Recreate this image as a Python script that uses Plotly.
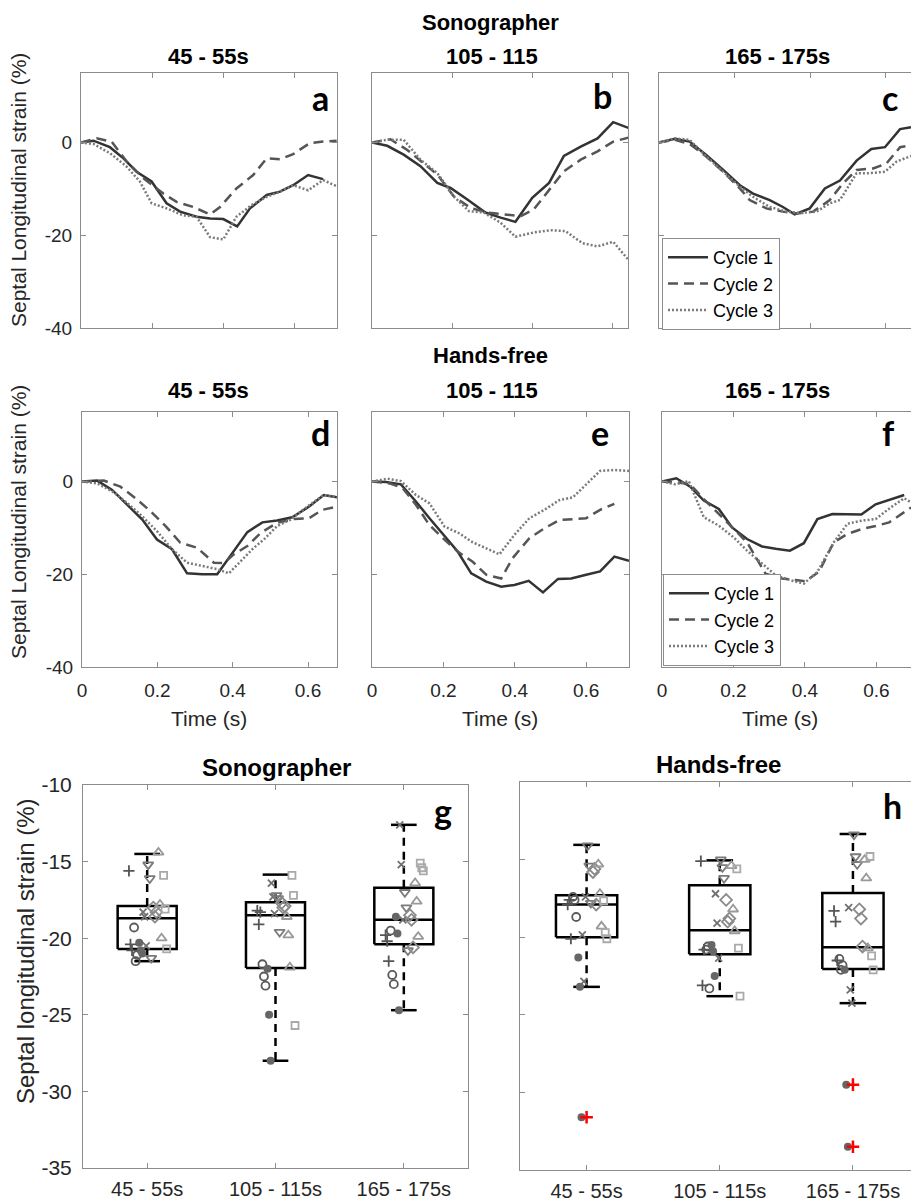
import plotly.graph_objects as go

W, H = 911, 1203
FONT = "Liberation Sans, Arial, sans-serif"
LETTER_FONT = "Lato, Open Sans, sans-serif"

# ---------------- Strain curves (time in s, strain in %) ----------------
# a: Sonographer 45-55s
A_T1 = [0, 0.035, 0.081, 0.119, 0.156, 0.198, 0.240, 0.278, 0.324, 0.362, 0.399, 0.438, 0.474, 0.521, 0.558, 0.595, 0.637, 0.679]
A_V1 = [0, 0.4, -1.0, -3.4, -6.3, -8.4, -13.1, -14.9, -16.0, -16.4, -16.5, -18.1, -14.2, -11.3, -10.6, -9.2, -7.0, -7.9]
A_T2 = [0, 0.044, 0.086, 0.128, 0.175, 0.231, 0.268, 0.315, 0.362, 0.390, 0.436, 0.483, 0.521, 0.558, 0.595, 0.642, 0.679, 0.717]
A_V2 = [0, 0.9, 0.2, -4.1, -7.7, -11.0, -12.8, -13.9, -15.5, -13.9, -9.9, -7.0, -3.4, -3.6, -2.5, -0.1, 0.2, 0.4]
A_T3 = [0, 0.035, 0.081, 0.128, 0.165, 0.198, 0.240, 0.287, 0.324, 0.362, 0.399, 0.436, 0.478, 0.521, 0.558, 0.595, 0.637, 0.679, 0.717]
A_V3 = [0, -0.3, -2.3, -5.2, -8.4, -13.1, -14.2, -15.7, -16.0, -20.4, -20.9, -16.0, -13.5, -11.7, -10.6, -9.2, -10.3, -8.1, -9.4]
# b: Sonographer 105-115
B_T1 = [0, 0.038, 0.079, 0.121, 0.163, 0.196, 0.238, 0.283, 0.321, 0.358, 0.400, 0.442, 0.479, 0.521, 0.563, 0.602, 0.642]
B_V1 = [0, -0.7, -2.6, -5.1, -8.7, -9.8, -12.3, -15.1, -16.2, -17.1, -11.9, -8.7, -2.9, -0.9, 0.9, 4.4, 3.1]
B_T2 = [0, 0.046, 0.088, 0.129, 0.163, 0.204, 0.246, 0.288, 0.329, 0.371, 0.404, 0.446, 0.479, 0.521, 0.563, 0.602, 0.642]
B_V2 = [0, 0.7, -1.6, -4.4, -6.9, -11.6, -14.1, -15.1, -15.5, -15.9, -14.4, -9.8, -6.2, -3.7, -1.9, 0.2, 1.1]
B_T3 = [0, 0.038, 0.079, 0.121, 0.163, 0.204, 0.242, 0.279, 0.321, 0.358, 0.404, 0.446, 0.483, 0.525, 0.563, 0.602, 0.642]
B_V3 = [0, 0.6, 0.6, -3.7, -6.6, -11.6, -14.8, -15.1, -17.3, -20.3, -19.4, -18.9, -19.1, -21.7, -22.4, -21.4, -25.5]
# c: Sonographer 165-175s
C_T1 = [0, 0.042, 0.081, 0.125, 0.170, 0.214, 0.249, 0.293, 0.328, 0.359, 0.399, 0.439, 0.479, 0.523, 0.562, 0.598, 0.638, 0.667]
C_V1 = [0, 0.8, 0.2, -2.7, -5.9, -9.2, -11.0, -12.4, -13.9, -15.5, -14.2, -9.9, -8.2, -3.9, -1.4, -1.0, 2.9, 3.3]
C_T2 = [0, 0.042, 0.081, 0.125, 0.170, 0.214, 0.240, 0.284, 0.328, 0.364, 0.408, 0.452, 0.487, 0.523, 0.567, 0.602, 0.638, 0.667]
C_V2 = [0, 0.6, -0.3, -3.0, -6.3, -9.9, -12.4, -14.2, -14.9, -15.3, -14.9, -12.4, -8.8, -5.9, -5.6, -4.5, -1.0, -0.6]
C_T3 = [0, 0.042, 0.081, 0.125, 0.170, 0.214, 0.249, 0.293, 0.337, 0.373, 0.417, 0.452, 0.479, 0.523, 0.558, 0.598, 0.629, 0.667]
C_V3 = [0, 0.9, 0.6, -3.0, -6.3, -9.5, -11.7, -13.9, -14.9, -15.2, -14.9, -13.1, -12.4, -6.6, -6.6, -6.3, -4.1, -2.9]
# d: Hands-free 45-55s
D_T1 = [0, 0.040, 0.080, 0.120, 0.160, 0.199, 0.239, 0.279, 0.319, 0.359, 0.399, 0.439, 0.479, 0.518, 0.558, 0.603, 0.642, 0.677]
D_V1 = [0, 0.2, -1.8, -5.0, -8.2, -12.5, -14.6, -19.8, -20.0, -20.0, -15.4, -10.9, -8.8, -8.4, -7.7, -5.4, -2.9, -3.4]
D_T2 = [0, 0.058, 0.102, 0.142, 0.182, 0.222, 0.261, 0.306, 0.350, 0.377, 0.403, 0.439, 0.474, 0.518, 0.563, 0.603, 0.638, 0.677]
D_V2 = [0, 0.2, -1.1, -3.6, -6.4, -9.6, -13.2, -14.3, -17.5, -17.6, -15.7, -13.9, -11.1, -8.9, -8.1, -7.9, -6.1, -5.4]
D_T3 = [0, 0.040, 0.080, 0.120, 0.160, 0.199, 0.239, 0.279, 0.319, 0.359, 0.390, 0.425, 0.456, 0.483, 0.518, 0.554, 0.598, 0.642, 0.677]
D_V3 = [0, -0.4, -2.1, -4.6, -7.5, -10.7, -14.6, -17.5, -18.2, -18.9, -19.8, -16.8, -14.3, -12.5, -9.6, -8.2, -5.4, -2.9, -3.4]
# e: Hands-free 105-115
E_T1 = [0, 0.039, 0.081, 0.123, 0.161, 0.198, 0.240, 0.278, 0.320, 0.362, 0.399, 0.439, 0.479, 0.521, 0.558, 0.600, 0.639, 0.679, 0.720]
E_V1 = [0, -0.1, -0.6, -4.3, -7.9, -11.2, -15.1, -19.8, -21.6, -22.7, -22.3, -21.4, -23.9, -21.0, -20.9, -20.1, -19.4, -16.2, -17.1]
E_T2 = [0, 0.049, 0.086, 0.123, 0.161, 0.198, 0.240, 0.282, 0.320, 0.362, 0.394, 0.441, 0.483, 0.525, 0.563, 0.600, 0.639, 0.679]
E_V2 = [0, -0.4, -1.4, -5.0, -9.4, -12.2, -15.1, -17.3, -20.1, -20.9, -16.5, -12.2, -10.1, -8.3, -8.1, -7.9, -6.1, -4.8]
E_T3 = [0, 0.044, 0.081, 0.123, 0.161, 0.203, 0.245, 0.282, 0.320, 0.357, 0.399, 0.441, 0.483, 0.525, 0.563, 0.600, 0.639, 0.679, 0.720]
E_V3 = [0, 0.6, 0.1, -2.9, -4.7, -9.7, -11.2, -13.1, -14.4, -15.7, -11.5, -7.9, -6.1, -4.0, -3.4, -0.7, 2.3, 2.5, 2.3]
# f: Hands-free 165-175s
F_T1 = [0, 0.040, 0.079, 0.117, 0.159, 0.196, 0.238, 0.280, 0.318, 0.358, 0.397, 0.435, 0.477, 0.519, 0.558, 0.598, 0.636, 0.678]
F_V1 = [0, 0.7, -1.1, -4.1, -5.9, -9.9, -12.4, -14.0, -14.5, -14.9, -13.3, -8.1, -7.0, -7.0, -7.1, -4.9, -3.9, -2.9]
F_T2 = [0, 0.042, 0.079, 0.117, 0.154, 0.196, 0.238, 0.290, 0.336, 0.379, 0.402, 0.439, 0.481, 0.519, 0.561, 0.598, 0.636, 0.678, 0.697]
F_V2 = [0, -0.2, -0.6, -3.8, -6.6, -9.9, -13.1, -19.9, -20.9, -21.3, -21.5, -19.5, -13.1, -11.3, -10.2, -9.6, -8.8, -6.6, -5.6]
F_T3 = [0, 0.037, 0.075, 0.117, 0.159, 0.200, 0.238, 0.276, 0.318, 0.360, 0.397, 0.435, 0.481, 0.519, 0.561, 0.598, 0.640, 0.678, 0.697]
F_V3 = [0, -0.6, 0.1, -7.7, -9.5, -12.0, -14.9, -17.4, -20.2, -21.3, -22.0, -19.5, -13.1, -9.1, -8.4, -8.1, -5.6, -3.6, -4.5]

CYCLE_NAMES = ["Cycle 1", "Cycle 2", "Cycle 3"]
Y_TICKS_TOP = [0, -20, -40]
X_TICKS_TOP = [0, 0.2, 0.4, 0.6]

# ---------------- Box plot data (septal longitudinal strain, %) ----------------
CATS = ["45 - 55s", "105 - 115s", "165 - 175s"]
SONO_Q1 = [-20.7, -21.95, -20.4]
SONO_MED = [-18.7, -18.5, -18.8]
SONO_Q3 = [-17.9, -17.65, -16.7]
SONO_LO = [-21.5, -28.0, -24.7]
SONO_HI = [-14.5, -15.85, -12.6]
HF_Q1 = [-20.0, -21.1, -22.05]
HF_MED = [-17.9, -19.55, -20.65]
HF_Q3 = [-17.3, -16.65, -17.15]
HF_LO = [-23.2, -23.8, -24.25]
HF_HI = [-14.05, -15.05, -13.35]
HF_OUT_CAT = [0, 2, 2]
HF_OUT_VAL = [-31.6, -29.5, -33.5]

# Individual subject values: one list per category, three cycles each
SONO_S1 = [[-19.3, -21.5, -21.1], [-21.7, -22.5, -23.1], [-19.5, -22.4, -23.0]]   # open circle
SONO_S2 = [[-20.3, -20.8, -21.0], [-22.0, -25.0, -28.0], [-18.6, -19.7, -24.7]]   # filled circle
SONO_S3 = [[-15.6, -20.4, -20.8], [-18.2, -19.1, -18.3], [-19.8, -20.2, -21.5]]   # plus
SONO_S4 = [[-18.3, -18.6, -20.5], [-16.4, -17.3, -18.4], [-12.6, -15.2, -18.8]]   # x
SONO_S5 = [[-15.2, -16.1, -21.3], [-17.2, -17.4, -19.6], [-17.0, -18.0, -20.8]]   # triangle down
SONO_S6 = [[-18.0, -18.6, -18.3], [-17.7, -18.0, -17.9], [-18.5, -18.8, -20.6]]   # diamond
SONO_S7 = [[-14.4, -17.8, -20.0], [-18.6, -19.8, -21.9], [-16.4, -17.6, -19.9]]   # triangle up
SONO_S8 = [[-15.9, -18.1, -20.7], [-15.9, -17.2, -25.7], [-15.1, -15.4, -15.6]]   # square

HF_S1 = [[-17.4, -17.6, -18.7], [-20.8, -20.6, -23.3], [-21.4, -22.1, -21.8]]
HF_S2 = [[-21.3, -23.2, -31.6], [-20.5, -20.9, -22.5], [-22.1, -29.5, -33.5]]
HF_S3 = [[-17.9, -17.6, -20.1], [-15.1, -23.1, -20.8], [-18.3, -19.0, -21.5]]
HF_S4 = [[-19.85, -22.85, -17.4], [-17.2, -19.1, -21.35], [-18.1, -23.4, -24.25]]
HF_S5 = [[-14.1, -15.4, -17.8], [-15.0, -15.5, -16.2], [-13.4, -14.8, -15.3]]
HF_S6 = [[-15.8, -15.6, -17.9], [-17.6, -19.0, -18.8], [-18.2, -18.8, -20.6]]
HF_S7 = [[-15.3, -17.2, -19.3], [-15.4, -18.2, -19.6], [-15.0, -16.2, -20.7]]
HF_S8 = [[-17.65, -19.7, -20.1], [-15.6, -20.7, -23.8], [-14.8, -21.2, -22.1]]

BOX_TICKS = [-35, -30, -25, -20, -15, -10]

# ---------------- styles ----------------
CYCLE_STYLES = [
    dict(color="#333333", width=2.5, dash="solid"),
    dict(color="#555555", width=2.5, dash="10px,6px"),
    dict(color="#7a7a7a", width=2.5, dash="2px,2px"),
]
SUBJECT_STYLES = [
    dict(symbol="circle-open", color="#5a5a5a", size=8, off=-0.09),
    dict(symbol="circle", color="#666666", size=8, off=-0.05),
    dict(symbol="cross-thin", color="#555555", size=8, off=-0.13),
    dict(symbol="x-thin", color="#707070", size=7, off=-0.02),
    dict(symbol="triangle-down-open", color="#7a7a7a", size=9, off=0.02),
    dict(symbol="diamond-open", color="#8a8a8a", size=9, off=0.06),
    dict(symbol="triangle-up-open", color="#999999", size=9, off=0.10),
    dict(symbol="square-open", color="#aaaaaa", size=7, off=0.14),
]
CYCLE_JITTER = [-0.012, 0.0, 0.012]
SPINE = "#8c8c8c"
TICKCOL = "#262626"


def dx(p0, p1):
    return [p0 / W, p1 / W]


def dy(p0, p1):
    return [1 - p1 / H, 1 - p0 / H]


fig = go.Figure()

# ---------------- top panels ----------------
panels = [
    ("", [A_T1, A_T2, A_T3], [A_V1, A_V2, A_V3], dx(81, 337), dy(73, 328), 0.718, True, False, True, None),
    ("2", [B_T1, B_T2, B_T3], [B_V1, B_V2, B_V3], dx(372, 628), dy(73, 328), 0.639, False, False, True, None),
    ("3", [C_T1, C_T2, C_T3], [C_V1, C_V2, C_V3], dx(659, 911), dy(73, 328), 0.667, False, False, False, "legend"),
    ("4", [D_T1, D_T2, D_T3], [D_V1, D_V2, D_V3], dx(82, 337), dy(412, 667), 0.677, True, True, True, None),
    ("5", [E_T1, E_T2, E_T3], [E_V1, E_V2, E_V3], dx(372, 629), dy(412, 667), 0.720, False, True, True, None),
    ("6", [F_T1, F_T2, F_T3], [F_V1, F_V2, F_V3], dx(662, 911), dy(412, 667), 0.697, False, True, False, "legend2"),
]

for pid, ts, vs, xd, yd, xr, ylab, xlab, mir, leg in panels:
    for k in range(3):
        fig.add_trace(go.Scatter(
            x=ts[k], y=vs[k], mode="lines", name=CYCLE_NAMES[k],
            line=CYCLE_STYLES[k], xaxis="x" + pid, yaxis="y" + pid,
            showlegend=leg is not None, legend=leg if leg else "legend",
        ))
    fig.update_layout(**{
        "xaxis" + pid: dict(
            domain=xd, range=[0, xr], anchor="y" + pid, showline=True, linecolor=SPINE, linewidth=1,
            mirror="ticks", ticks="inside", ticklen=5, tickcolor=SPINE, tickvals=X_TICKS_TOP,
            ticktext=[("%g" % v) for v in X_TICKS_TOP], showticklabels=xlab, showgrid=False, zeroline=False,
            tickfont=dict(family=FONT, size=19, color=TICKCOL), ticklabelstandoff=6, automargin=False,
        ),
        "yaxis" + pid: dict(
            domain=yd, range=[-40, 15], anchor="x" + pid, showline=True, linecolor=SPINE, linewidth=1,
            mirror="ticks" if mir else False, ticks="inside", ticklen=5, tickcolor=SPINE,
            tickvals=Y_TICKS_TOP, ticktext=[str(v) for v in Y_TICKS_TOP], showticklabels=ylab,
            showgrid=False, zeroline=False, tickfont=dict(family=FONT, size=19, color=TICKCOL),
            ticklabelstandoff=4, automargin=False,
        ),
    })

# ---------------- box plots ----------------
BOX_HALF = 0.23
CAP_HALF = 0.10


def add_box(pid, q1, med, q3, lo, hi, subjects):
    bx, by, mx, my, cx, cy, wx, wy = [], [], [], [], [], [], [], []
    for i in range(len(CATS)):
        bx += [i - BOX_HALF, i + BOX_HALF, i + BOX_HALF, i - BOX_HALF, i - BOX_HALF, None]
        by += [q1[i], q1[i], q3[i], q3[i], q1[i], None]
        mx += [i - BOX_HALF, i + BOX_HALF, None]
        my += [med[i], med[i], None]
        cx += [i - CAP_HALF, i + CAP_HALF, None, i - CAP_HALF, i + CAP_HALF, None]
        cy += [hi[i], hi[i], None, lo[i], lo[i], None]
        wx += [i, i, None, i, i, None]
        wy += [q3[i], hi[i], None, q1[i], lo[i], None]
    common = dict(xaxis="x" + pid, yaxis="y" + pid, showlegend=False, mode="lines", hoverinfo="skip")
    fig.add_trace(go.Scatter(x=wx, y=wy, line=dict(color="black", width=2.5, dash="8px,6px"), **common))
    fig.add_trace(go.Scatter(x=bx, y=by, line=dict(color="black", width=2.5), **common))
    fig.add_trace(go.Scatter(x=mx, y=my, line=dict(color="black", width=2.5), **common))
    fig.add_trace(go.Scatter(x=cx, y=cy, line=dict(color="black", width=2.5), **common))
    for s, vals in zip(SUBJECT_STYLES, subjects):
        xs, ys = [], []
        for i in range(len(CATS)):
            for k, v in enumerate(vals[i]):
                xs.append(i + s["off"] + CYCLE_JITTER[k])
                ys.append(v)
        filled = s["symbol"] == "circle"
        fig.add_trace(go.Scatter(
            x=xs, y=ys, mode="markers", xaxis="x" + pid, yaxis="y" + pid, showlegend=False,
            marker=dict(symbol=s["symbol"], size=s["size"], color=s["color"],
                        line=dict(color=s["color"], width=0 if filled else 1.8)),
        ))


add_box("7", SONO_Q1, SONO_MED, SONO_Q3, SONO_LO, SONO_HI,
        [SONO_S1, SONO_S2, SONO_S3, SONO_S4, SONO_S5, SONO_S6, SONO_S7, SONO_S8])
add_box("8", HF_Q1, HF_MED, HF_Q3, HF_LO, HF_HI,
        [HF_S1, HF_S2, HF_S3, HF_S4, HF_S5, HF_S6, HF_S7, HF_S8])
fig.add_trace(go.Scatter(
    x=HF_OUT_CAT, y=HF_OUT_VAL, mode="markers", xaxis="x8", yaxis="y8", showlegend=False,
    marker=dict(symbol="cross-thin", size=9, color="red", line=dict(color="red", width=2.5)),
))

box_axes = [
    ("7", dx(83, 468), dy(785, 1168), [-0.5, 2.5], True, True),
    ("8", dx(520, 911), dy(782, 1170), [-0.5, 2.436], False, False),
]
for pid, xd, yd, xr, ylab, mir in box_axes:
    fig.update_layout(**{
        "xaxis" + pid: dict(
            domain=xd, range=xr, anchor="y" + pid, showline=True, linecolor=SPINE, linewidth=1,
            mirror="ticks", ticks="inside", ticklen=5, tickcolor=SPINE, tickvals=[0, 1, 2],
            ticktext=CATS, showgrid=False, zeroline=False,
            tickfont=dict(family=FONT, size=20, color=TICKCOL), ticklabelstandoff=3, automargin=False,
        ),
        "yaxis" + pid: dict(
            domain=yd, range=[-35, -10], anchor="x" + pid, showline=True, linecolor=SPINE, linewidth=1,
            mirror="ticks" if mir else False, ticks="inside", ticklen=5, tickcolor=SPINE,
            tickvals=BOX_TICKS, ticktext=[str(v) for v in BOX_TICKS], showticklabels=ylab,
            showgrid=False, zeroline=False,
            tickfont=dict(family=FONT, size=21, color=TICKCOL), ticklabelstandoff=6, automargin=False,
        ),
    })

# ---------------- annotations ----------------
ann = []


def text(x, y, s, size, bold=False, family=FONT, angle=0, color="black"):
    ann.append(dict(
        x=x / W, y=1 - y / H, xref="paper", yref="paper", text=("<b>%s</b>" % s) if bold else s,
        showarrow=False, xanchor="center", yanchor="middle", textangle=angle,
        font=dict(family=family, size=size, color=color),
    ))


text(490, 22, "Sonographer", 22, bold=True)
text(208, 56, "45 - 55s", 22, bold=True)
text(492, 56, "105 - 115", 22, bold=True)
text(777, 56, "165 - 175s", 22, bold=True)
text(490, 355, "Hands-free", 22, bold=True)
text(208, 391, "45 - 55s", 22, bold=True)
text(492, 391, "105 - 115", 22, bold=True)
text(777, 391, "165 - 175s", 22, bold=True)
text(18, 190, "Septal Longitudinal strain (%)", 21, angle=-90, color=TICKCOL)
text(18, 522, "Septal Longitudinal strain (%)", 21, angle=-90, color=TICKCOL)
for xc in (209, 500, 780):
    text(xc, 718, "Time (s)", 21, color=TICKCOL)
text(276, 767, "Sonographer", 24, bold=True)
text(718, 764, "Hands-free", 24, bold=True)
text(26, 951, "Septal longitudinal strain (%)", 24, angle=-90, color=TICKCOL)
for (lx, ly, s) in [(320, 97, "a"), (602, 95, "b"), (890, 98, "c"), (320, 433, "d"),
                    (600, 433, "e"), (888, 433, "f"), (443, 810, "g"), (892, 805, "h")]:
    text(lx, ly, s, 34, bold=True, family=LETTER_FONT)

legend_style = dict(
    xanchor="left", yanchor="top", bordercolor=SPINE, borderwidth=1, bgcolor="white",
    font=dict(family=FONT, size=18, color="black"), itemwidth=40, tracegroupgap=0,
)
fig.update_layout(
    width=W, height=H, margin=dict(l=0, r=0, t=0, b=0, autoexpand=False),
    paper_bgcolor="white", plot_bgcolor="white",
    annotations=ann,
    legend=dict(x=662 / W, y=1 - 238 / H, **legend_style),
    legend2=dict(x=663 / W, y=1 - 574 / H, **legend_style),
)

fig.write_html(
    "out.html",
    config={"displayModeBar": False},
    post_script="document.body.style.margin='0';document.body.style.overflow='hidden';",
)
